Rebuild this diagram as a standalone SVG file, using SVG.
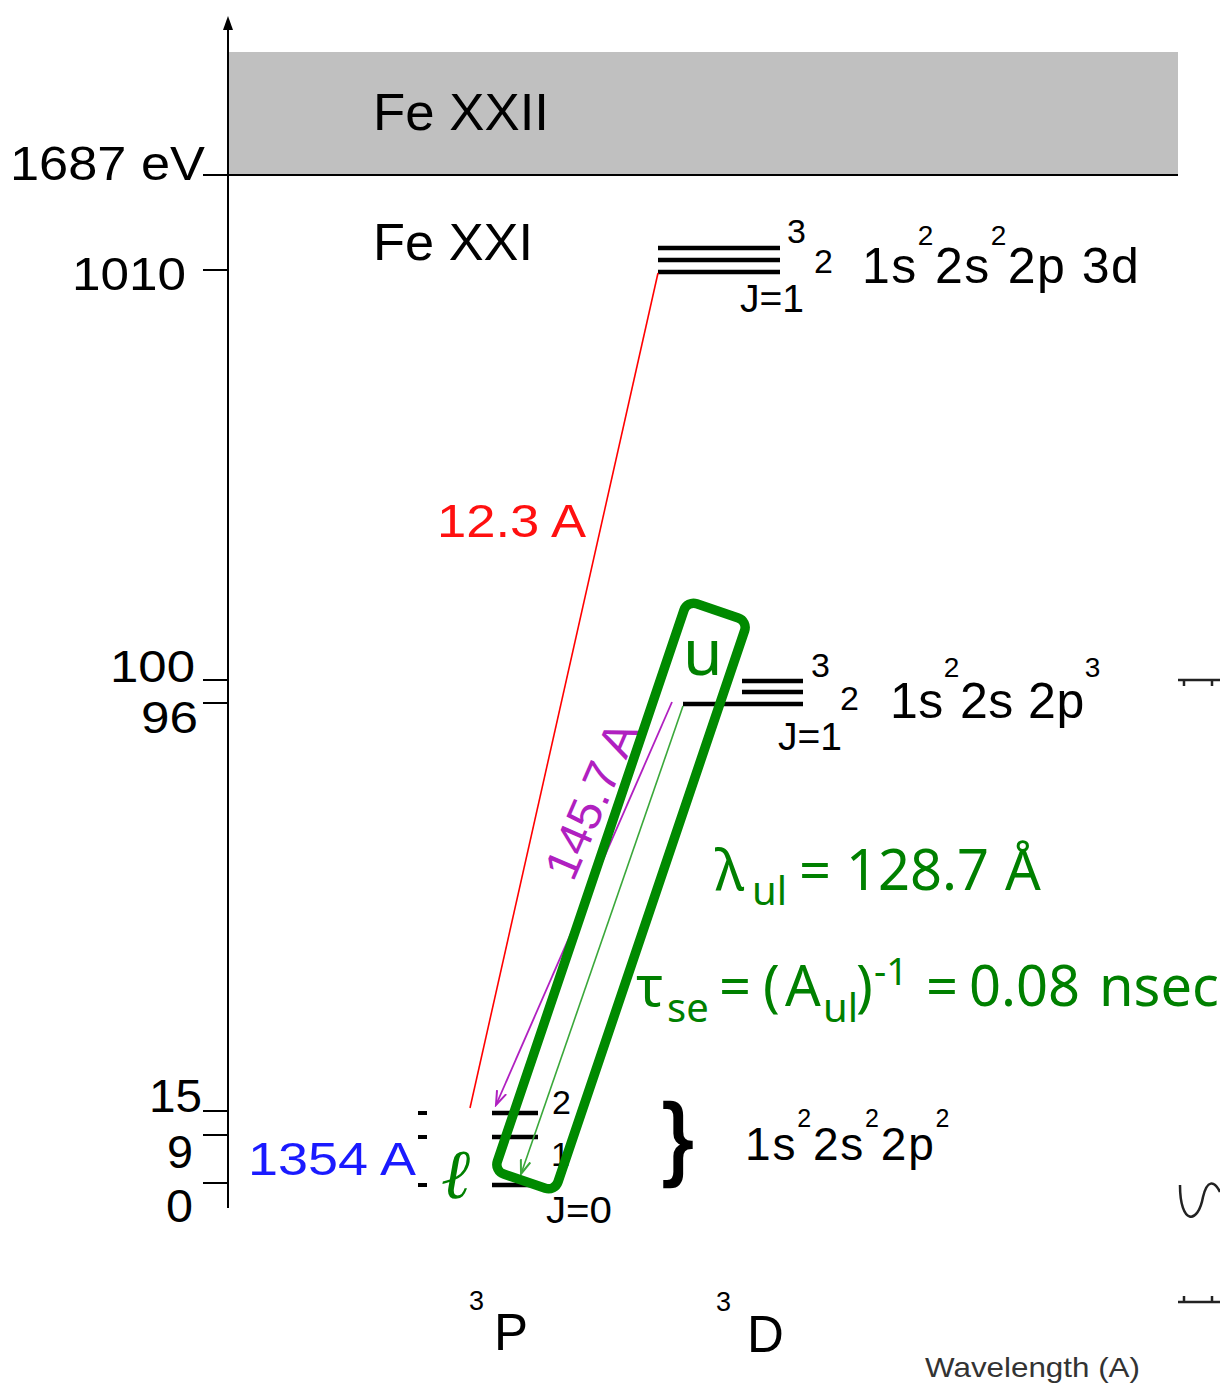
<svg xmlns="http://www.w3.org/2000/svg" width="1220" height="1384" viewBox="0 0 1220 1384">
<style>
.lbl{font-family:"Liberation Sans",Arial,sans-serif;fill:#000}
.g{font-family:"Noto Sans","Open Sans",sans-serif;fill:#008000}
.lvl{stroke:#000;stroke-width:4.5}
.tick{stroke:#000;stroke-width:2}
</style>
<defs>
<marker id="ahP" markerWidth="16" markerHeight="12" refX="14" refY="6" orient="auto" markerUnits="userSpaceOnUse"><path d="M0,1 L14,6 L0,11" fill="none" stroke="#b020c0" stroke-width="2"/></marker>
<marker id="ahG" markerWidth="16" markerHeight="12" refX="14" refY="6" orient="auto" markerUnits="userSpaceOnUse"><path d="M0,1 L14,6 L0,11" fill="none" stroke="#3aa83a" stroke-width="2"/></marker>
</defs>
<rect width="1220" height="1384" fill="#fff"/>

<g id="band">
<rect x="228" y="52" width="950" height="123" fill="#c0c0c0"/>
<line x1="203" y1="175" x2="1178" y2="175" stroke="#000" stroke-width="2"/>
<text class="lbl" x="373" y="130" font-size="52" textLength="176" lengthAdjust="spacingAndGlyphs">Fe XXII</text>
<text class="lbl" x="373" y="260" font-size="52" textLength="160" lengthAdjust="spacingAndGlyphs">Fe XXI</text>
</g>

<g id="axis">
<line x1="228" y1="22" x2="228" y2="1208" stroke="#000" stroke-width="2"/>
<polygon points="228,16 223,30 233,30" fill="#000"/>
<line class="tick" x1="203" y1="270" x2="228" y2="270"/>
<line class="tick" x1="203" y1="680" x2="228" y2="680"/>
<line class="tick" x1="203" y1="703" x2="228" y2="703"/>
<line class="tick" x1="203" y1="1111" x2="228" y2="1111"/>
<line class="tick" x1="203" y1="1135" x2="228" y2="1135"/>
<line class="tick" x1="203" y1="1183" x2="228" y2="1183"/>
<text class="lbl" x="10" y="180" font-size="49" textLength="195" lengthAdjust="spacingAndGlyphs">1687 eV</text>
<text class="lbl" x="72" y="290" font-size="46" textLength="114" lengthAdjust="spacingAndGlyphs">1010</text>
<text class="lbl" x="110" y="682" font-size="44" textLength="85" lengthAdjust="spacingAndGlyphs">100</text>
<text class="lbl" x="141" y="733" font-size="44" textLength="57" lengthAdjust="spacingAndGlyphs">96</text>
<text class="lbl" x="149" y="1112" font-size="46" textLength="53" lengthAdjust="spacingAndGlyphs">15</text>
<text class="lbl" x="167" y="1168" font-size="46" textLength="26" lengthAdjust="spacingAndGlyphs">9</text>
<text class="lbl" x="166" y="1222" font-size="46" textLength="27" lengthAdjust="spacingAndGlyphs">0</text>
</g>

<g id="level-3d">
<line class="lvl" x1="658" y1="248" x2="780" y2="248"/>
<line class="lvl" x1="658" y1="260" x2="780" y2="260"/>
<line class="lvl" x1="658" y1="272" x2="780" y2="272"/>
<text class="lbl" x="787" y="243" font-size="34">3</text>
<text class="lbl" x="814" y="273" font-size="34">2</text>
<text class="lbl" x="740" y="312" font-size="39" textLength="64" lengthAdjust="spacingAndGlyphs">J=1</text>
<text class="lbl" x="862" y="283" font-size="50" letter-spacing="1.5">1s<tspan dy="-38" font-size="28">2</tspan><tspan dy="38">2s</tspan><tspan dy="-38" font-size="28">2</tspan><tspan dy="38">2p 3d</tspan></text>
</g>

<g id="level-2p3">
<line class="lvl" x1="742" y1="681" x2="803" y2="681"/>
<line class="lvl" x1="742" y1="692" x2="803" y2="692"/>
<line class="lvl" x1="683" y1="704" x2="803" y2="704"/>
<text class="lbl" x="811" y="677" font-size="34">3</text>
<text class="lbl" x="840" y="710" font-size="34">2</text>
<text class="lbl" x="778" y="750" font-size="39" textLength="64" lengthAdjust="spacingAndGlyphs">J=1</text>
<text class="lbl" x="890" y="718" font-size="50" letter-spacing="0.5">1s<tspan dy="-41" font-size="28">2</tspan><tspan dy="41">2s 2p</tspan><tspan dy="-41" font-size="28">3</tspan></text>
</g>

<g id="level-2p2">
<line class="lvl" x1="492" y1="1113" x2="538" y2="1113"/>
<line class="lvl" x1="492" y1="1137" x2="538" y2="1137"/>
<line class="lvl" x1="492" y1="1185" x2="538" y2="1185"/>
<line x1="418" y1="1113" x2="427" y2="1113" stroke="#000" stroke-width="4"/>
<line x1="418" y1="1137" x2="427" y2="1137" stroke="#000" stroke-width="4"/>
<line x1="418" y1="1185" x2="427" y2="1185" stroke="#000" stroke-width="4"/>
<text class="lbl" x="552" y="1114" font-size="34">2</text>
<text class="lbl" x="551" y="1166" font-size="34">1</text>
<text class="lbl" x="546" y="1223" font-size="37" textLength="66" lengthAdjust="spacingAndGlyphs">J=0</text>
<text class="lbl" x="663" y="1168" font-size="90" stroke="#000" stroke-width="2.5">}</text>
<text class="lbl" x="745" y="1160" font-size="46" letter-spacing="1.8">1s<tspan dy="-33" font-size="25">2</tspan><tspan dy="33">2s</tspan><tspan dy="-33" font-size="25">2</tspan><tspan dy="33">2p</tspan><tspan dy="-33" font-size="25">2</tspan></text>
</g>

<g id="connectors">
<line x1="658" y1="273" x2="470" y2="1108" stroke="#ff0000" stroke-width="1.6"/>
<line x1="672" y1="702" x2="496" y2="1105" stroke="#b020c0" stroke-width="1.8" marker-end="url(#ahP)"/>
<line x1="683" y1="706" x2="521" y2="1174" stroke="#3aa83a" stroke-width="1.6" marker-end="url(#ahG)"/>
</g>

<g id="line-labels">
<text x="437" y="537" font-family="Liberation Sans,Arial,sans-serif" font-size="46" fill="#ff1010" textLength="149" lengthAdjust="spacingAndGlyphs">12.3 A</text>
<text x="248" y="1175" font-family="Liberation Sans,Arial,sans-serif" font-size="46" fill="#1a1aff" textLength="168" lengthAdjust="spacingAndGlyphs">1354 A</text>
<text transform="translate(573,883) rotate(-66.6)" font-family="Liberation Sans,Arial,sans-serif" font-size="47" fill="#b020c0" textLength="166" lengthAdjust="spacingAndGlyphs">145.7 A</text>
</g>

<g id="highlight">
<rect x="-32" y="-301" width="64" height="602" rx="10" transform="translate(621,896) rotate(18.7)" fill="none" stroke="#008a00" stroke-width="9.5"/>
<text class="g" x="683" y="675" font-size="64">u</text>
<text x="441" y="1198" font-family="DejaVu Serif,serif" font-size="70" font-style="italic" fill="#008000">ℓ</text>
</g>

<g id="formulas">
<text class="g" y="890" font-size="56"><tspan x="715">λ</tspan><tspan x="752" y="905" font-size="40">ul</tspan><tspan x="799" y="890">=</tspan><tspan x="846">128.7</tspan><tspan x="1005">Å</tspan></text>
<text class="g" y="1006" font-size="56"><tspan x="636">τ</tspan><tspan x="667" y="1022" font-size="40">se</tspan><tspan x="719" y="1006">=</tspan><tspan x="763">(</tspan><tspan x="785">A</tspan><tspan x="823" y="1022" font-size="40">ul</tspan><tspan x="856" y="1006">)</tspan><tspan x="874" y="985" font-size="38">-1</tspan><tspan x="926" y="1006">=</tspan><tspan x="969">0.08</tspan><tspan x="1099">nsec</tspan></text>
</g>

<g id="terms">
<text class="lbl" x="469" y="1310" font-size="27">3</text>
<text class="lbl" x="494" y="1350" font-size="51">P</text>
<text class="lbl" x="716" y="1311" font-size="27">3</text>
<text class="lbl" x="747" y="1352" font-size="51">D</text>
<text x="925" y="1377" font-family="Liberation Sans,Arial,sans-serif" font-size="28" fill="#333" textLength="215" lengthAdjust="spacingAndGlyphs">Wavelength (A)</text>
</g>

<g id="edge-fragments" stroke="#222" fill="none" stroke-width="2.5">
<path d="M1178,680 L1220,680 M1184,680 L1184,686 M1212,680 L1212,686"/>
<path d="M1180,1185 C1180,1225 1198,1225 1203,1197 C1207,1180 1214,1180 1220,1192"/>
<path d="M1178,1302 L1220,1302 M1184,1302 L1184,1296 M1212,1302 L1212,1296"/>
</g>
</svg>
